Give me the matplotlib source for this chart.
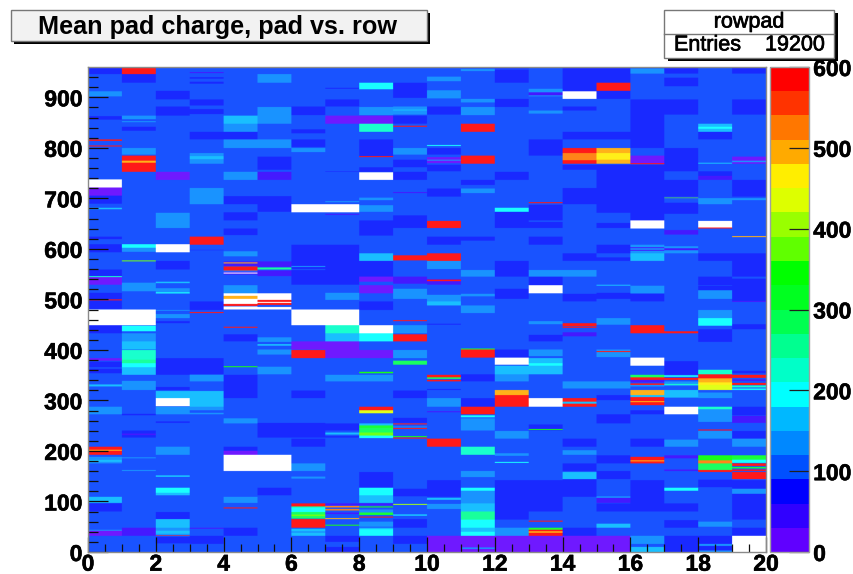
import numpy as np
import matplotlib
matplotlib.use('Agg')
import matplotlib.pyplot as plt
import matplotlib.patheffects as pe
from matplotlib.colors import ListedColormap, BoundaryNorm
from matplotlib.cm import ScalarMappable
from matplotlib.patches import Rectangle

plt.rcParams['font.family'] = ['Liberation Sans', 'DejaVu Sans']

W, H = 854, 574

# palette, 20 contours from 0 to 600
palette = ['#6000ff', '#3000ff', '#0000ff', '#0050ff', '#0088ff', '#00b8ff', '#00ffff', '#00ffc8', '#00ff90', '#00ff50',
           '#00ff20', '#00ff00', '#60ff00', '#99ff00', '#ddff00', '#ffee00', '#ffaa00', '#ff7700', '#ff3300', '#ff0000']
levels = np.linspace(0, 600, 21)
background = 105
overflow = 700   # drawn white

# each column: (pad from, pad to, mean charge)
col_00 = [(944,960,75),(900,910,135),(854,861,75),(812,815,590),(801,803,590),(720,736,overflow),(704,720,15),(688,704,75),
          (677,680,165),(618,623,75),(592,608,75),(545,558,75),(528,544,15),(543,545,210),(498,512,75),(480,498,75),(497,499,590),
          (448,479,overflow),(432,448,75),(378,383,15),(365,376,75),(353,362,75),(327,331,165),(272,287,135),(192,208,585),(200,202,480),
          (175,188,135),(178,182,165),(97,109,150),(80,96,75),(32,43,15),(42,44,135)]
col_01 = [(944,960,585),(927,944,75),(855,862,135),(849,851,135),(832,840,75),(785,798,135),(751,783,585),(769,773,480),
          (601,608,195),(593,601,135),(574,576,360),(517,532,135),(515,526,135),(448,479,overflow),(436,447,195),(416,432,135),
          (400,416,165),(380,399,225),(373,380,255),(365,373,195),(350,365,165),(320,338,135),(270,273,75),(226,240,75),(231,234,30),
          (185,187,135),(160,162,135),(32,48,30)]
col_02 = [(894,911,75),(862,880,75),(735,751,15),(640,670,135),(592,608,overflow),(558,575,75),(531,534,165),(510,521,135),
          (511,513,195),(477,478,165),(462,470,135),(452,456,75),(350,383,75),(320,326,75),(304,318,165),(288,304,overflow),
          (272,287,135),(255,258,75),(192,208,135),(149,151,195),(117,127,195),(112,117,165),(65,79,75),(48,65,165),(32,48,135),
          (36,42,165),(32,33,590),(17,30,75)]
col_03 = [(946,948,45),(935,938,75),(925,929,75),(882,894,75),(865,875,75),(815,830,75),(767,788,135),(776,782,165),(687,719,135),
          (607,623,585),(596,597,60),(478,495,75),(472,474,590),(351,383,75),(337,350,135),(287,318,150),(280,287,135),(272,275,135),
          (46,48,45),(16,32,75)]
col_04 = [(846,862,165),(830,846,135),(815,830,75),(798,815,135),(735,751,135),(687,703,75),(655,671,75),(626,639,75),(584,594,135),
          (565,574,30),(570,572,480),(556,564,585),(554,556,135),(548,554,30),(550,552,overflow),(517,527,135),(511,526,135),
          (506,511,overflow),(500,506,480),(490,500,610),(486,490,585),(479,485,overflow),(443,445,590),(416,430,75),(365,367,330),
          (304,350,75),(254,264,135),(200,208,75),(192,200,15),(160,192,overflow),(97,109,135),(86,88,590),(32,48,75)]
col_05 = [(927,944,135),(846,879,135),(798,815,135),(755,781,75),(735,751,30),(672,703,75),(563,574,30),(558,562,265),(545,556,30),
          (505,511,overflow),(498,505,610),(488,498,585),(492,494,610),(479,484,overflow),(415,424,135),(408,410,195),(390,400,135),
          (351,366,135),(240,255,75),(226,240,75),(160,192,overflow),(112,127,75)]
col_06 = [(863,880,75),(827,835,75),(800,815,75),(790,798,135),(671,687,overflow),(575,607,75),(559,575,75),(563,565,135),(528,557,75),
          (448,479,overflow),(400,416,15),(383,399,585),(304,319,75),(226,255,75),(208,224,75),(160,175,135),(145,149,135),(90,96,585),
          (88,90,265),(79,88,195),(66,79,270),(71,74,380),(48,65,585),(32,46,150),(38,41,135)]
col_07 = [(880,894,75),(915,917,75),(846,862,15),(751,752,60),(671,687,overflow),(691,693,135),(666,668,30),(592,607,75),(575,592,60),
          (544,575,75),(528,544,60),(498,512,135),(448,479,overflow),(432,448,225),(416,432,150),(383,416,15),(337,350,135),(240,254,75),
          (232,236,165),(226,229,75),(92,96,30),(88,91,510),(82,85,510),(75,78,30),(65,67,480),(52,54,330),(0,32,75),(10,20,105)]
col_08 = [(914,927,195),(863,879,135),(846,862,15),(830,846,225),(782,815,75),(780,782,570),(751,760,75),(735,750,overflow),(695,700,135),
          (672,685,135),(625,655,75),(575,590,165),(544,575,75),(534,544,15),(511,527,15),(478,495,75),(432,448,overflow),(416,432,195),
          (383,399,15),(353,356,330),(337,350,135),(280,287,585),(274,280,420),(250,254,150),(245,250,300),(236,245,270),(230,236,375),
          (225,230,195),(127,158,75),(112,127,195),(97,112,165),(92,96,30),(88,90,330),(78,84,135),(73,78,300),(68,70,570),(50,60,135),
          (32,48,195),(45,48,165)]
col_09 = [(897,927,75),(864,880,135),(872,874,165),(846,862,75),(840,842,590),(785,798,135),(760,775,75),(735,751,75),(709,711,30),
          (640,665,75),(576,586,585),(530,544,45),(500,520,135),(456,458,590),(432,448,135),(425,430,585),(420,425,585),(416,420,590),
          (383,399,135),(370,378,270),(319,304,105),(304,319,75),(255,265,75),(252,254,590),(246,248,135),(243,245,590),(227,229,330),
          (224,226,590),(110,125,75),(93,95,390),(72,74,195),(48,65,75),(16,32,75)]
col_10 = [(930,939,135),(896,912,135),(880,870,105),(864,880,75),(802,804,195),(785,798,75),(768,780,15),(773,775,135),(752,765,75),
          (702,718,75),(640,654,585),(607,623,75),(575,590,585),(559,575,135),(528,539,30),(535,538,590),(495,508,135),(487,495,165),
          (449,451,75),(345,350,590),(342,345,285),(337,340,590),(320,322,75),(287,304,135),(276,278,30),(208,224,585),(109,142,75),
          (103,107,165),(85,95,135),(0,32,15)]
col_11 = [(950,954,135),(888,895,135),(863,879,135),(830,846,585),(767,783,585),(725,735,75),(709,718,135),(615,623,75),(544,557,135),
          (505,510,135),(472,487,135),(400,402,300),(384,400,585),(351,337,105),(337,351,75),(287,304,75),(272,287,585),(266,270,195),
          (240,264,135),(192,208,225),(148,160,135),(121,127,195),(96,121,135),(80,96,165),(64,80,265),(32,64,195),(40,48,165),(0,32,15),(6,9,135)]
col_12 = [(955,960,75),(927,953,75),(879,895,75),(735,751,75),(680,672,105),(672,680,195),(640,672,75),(544,575,75),(500,520,75),
          (384,400,75),(370,384,overflow),(351,368,165),(337,351,135),(320,310,105),(310,320,480),(287,310,585),(224,239,135),
          (190,195,135),(176,178,195),(109,142,75),(64,80,75),(32,48,135),(80,110,60),(0,32,15)]
col_13 = [(900,915,135),(902,908,30),(866,872,135),(783,815,75),(692,690,105),(689,691,590),(655,686,75),(640,652,75),(607,623,75),
          (544,557,135),(527,544,75),(511,527,overflow),(480,505,105),(450,456,135),(416,429,75),(387,400,135),(351,383,165),(368,373,195),
          (304,351,105),(287,304,overflow),(240,252,75),(241,243,330),(109,142,75),(60,62,590),(32,48,585),(44,48,320),(38,41,480),(0,32,15),
          (80,109,75)]
col_14 = [(934,960,75),(910,934,75),(895,910,overflow),(872,880,75),(815,830,75),(788,798,585),(774,788,520),(767,774,585),(755,765,75),
          (687,719,75),(575,590,75),(544,557,135),(495,510,75),(446,452,585),(443,445,590),(426,434,45),(323,337,135),(287,304,585),(293,297,150),
          (208,224,75),(192,201,135),(160,175,75),(144,158,165),(109,144,75),(32,48,75),(0,32,15)]
col_15 = [(927,960,75),(911,927,585),(895,911,75),(830,815,105),(815,830,75),(788,798,495),(775,788,465),(767,775,495),(735,765,75),
          (670,735,60),(640,650,60),(645,650,75),(590,607,75),(575,582,60),(526,528,165),(500,512,75),(449,462,135),(400,385,105),(385,400,135),
          (395,397,590),(323,337,135),(300,310,60),(254,272,75),(175,191,75),(144,160,75),(109,97,105),(97,109,30),(107,110,135),(80,96,75),(48,56,165),
          (0,32,15)]
col_16 = [(945,955,135),(864,894,75),(830,864,75),(798,830,75),(767,783,15),(766,768,590),(735,765,75),(655,735,60),(639,655,overflow),
          (590,607,135),(600,602,30),(595,597,30),(575,590,150),(511,526,135),(495,510,75),(448,432,105),(432,448,585),(368,384,overflow),
          (345,350,280),(340,345,590),(335,340,30),(330,333,590),(327,330,135),(310,320,480),(306,310,150),(290,306,585),(296,298,480),(272,280,75),
          (208,224,75),(175,188,585),(179,181,480),(109,142,75),(80,109,75),(0,10,165),(16,32,135)]
col_17 = [(945,960,75),(920,937,75),(880,894,75),(864,880,75),(752,798,75),(702,735,75),(699,700,360),(668,690,75),(627,636,30),(590,604,135),
          (596,600,45),(350,377,75),(346,349,195),(340,344,590),(328,337,135),(330,332,225),(305,320,165),(272,287,overflow),(222,208,105),(208,222,135),
          (185,191,30),(121,127,195),(80,96,75),(48,63,75),(0,32,75),(160,163,30),(432,436,590)]
col_18 = [(846,830,105),(830,846,165),(836,840,195),(815,830,75),(767,769,165),(735,752,75),(735,743,30),(687,699,135),(639,654,overflow),(639,641,590),
          (575,590,75),(527,529,330),(544,527,75),(511,526,75),(500,517,135),(462,478,135),(447,462,195),(415,440,75),(351,360,225),(343,351,585),
          (335,343,480),(330,335,450),(320,330,430),(304,315,135),(282,287,225),(257,282,135),(240,242,590),(224,239,135),(181,191,330),(175,181,510),
          (162,175,270),(158,162,585),(128,143,75),(50,60,135),(0,16,135),(16,32,75),(3,12,75)]
col_19 = [(945,960,75),(864,894,75),(767,781,15),(770,773,135),(702,735,75),(695,699,135),(622,624,480),(544,590,75),(511,527,75),(495,540,75),
          (494,496,30),(440,450,75),(353,358,75),(344,350,590),(338,341,30),(330,334,590),(325,329,225),(320,323,195),(270,287,75),(255,269,30),(224,239,75),
          (208,224,135),(176,191,270),(184,191,300),(176,182,195),(170,175,590),(165,168,300),(160,163,590),(144,158,585),(110,142,75),(115,125,135),
          (80,110,75),(64,80,75),(32,48,75),(0,32,overflow)]
columns = [col_00, col_01, col_02, col_03, col_04, col_05, col_06, col_07, col_08, col_09,
           col_10, col_11, col_12, col_13, col_14, col_15, col_16, col_17, col_18, col_19]

grid = np.full((960, 20), float(background))
for c, bands in enumerate(columns):
    for lo, hi, val in bands:
        grid[min(lo, hi):max(lo, hi), c] = val

def px_axes(fig, x0, y0, x1, y1):
    return fig.add_axes([x0 / W, 1 - y1 / H, (x1 - x0) / W, (y1 - y0) / H])

def lighten(col):
    r, g, b, a = matplotlib.colors.to_rgba(col)
    return (r * 0.9 + 0.1, g * 0.9 + 0.1, b * 0.9 + 0.1, a)

def bold_labels(axis_obj):
    for lab in axis_obj.get_xticklabels() + axis_obj.get_yticklabels():
        lab.set_fontsize(16.5)
        lab.set_fontweight('bold')
        lab.set_path_effects([pe.withStroke(linewidth=0.4, foreground='black')])

fig = plt.figure(figsize=(W / 100, H / 100), dpi=100)
norm = BoundaryNorm(levels, 20)

# heatmap is a bit paler than the palette in the colorbar, dark blue less deep
heat_colors = list(palette)
heat_colors[2] = '#0012ff'
heat_colors[3] = '#0040ff'
cmap = ListedColormap([lighten(c) for c in heat_colors])
cmap.set_over('white')
ax = px_axes(fig, 88, 67, 766, 552)
# columns repeated so only the thin rows get smoothed, not the column edges
ax.imshow(np.repeat(grid, 68, axis=1), origin='lower', extent=[0, 20, 0, 960], aspect='auto', cmap=cmap, norm=norm,
          interpolation='hanning', interpolation_stage='rgba')
ax.set_xlim(0, 20)
ax.set_ylim(0, 960)
ax.set_xticks(np.arange(0, 21, 2))
ax.set_xticks(np.arange(0, 20.5, 0.5), minor=True)
ax.set_yticks(np.arange(0, 901, 100))
ax.set_yticks(np.arange(0, 960, 20), minor=True)
ax.tick_params(axis='x', which='major', direction='in', length=11, width=0.9, color='#101010', pad=0.5)
ax.tick_params(axis='x', which='minor', direction='in', length=5.5, width=0.9, color='#101010')
ax.tick_params(axis='y', which='major', direction='in', length=14.5, width=0.9, color='#101010', pad=4)
ax.tick_params(axis='y', which='minor', direction='in', length=7, width=0.9, color='#101010')
bold_labels(ax)
for s in ax.spines.values():
    s.set_color('#8a8a8a')
    s.set_linewidth(1.0)

# colorbar
cax = px_axes(fig, 770, 67, 809, 552)
cb = fig.colorbar(ScalarMappable(norm=norm, cmap=ListedColormap(palette)), cax=cax,
                  ticks=np.arange(0, 601, 100), spacing='proportional')
cb.ax.minorticks_off()
cb.ax.tick_params(direction='in', length=14.5, width=0.9, color='#202020', pad=3)
bold_labels(cb.ax)
cb.outline.set_edgecolor('#a0a0a0')
cb.outline.set_linewidth(1.0)

# boxes in pixel coordinates
over = fig.add_axes([0, 0, 1, 1], zorder=5)
over.set_xlim(0, W)
over.set_ylim(H, 0)
over.axis('off')
stroke = [pe.withStroke(linewidth=0.5, foreground='black')]
over.add_patch(Rectangle((14, 13), 416, 31, fc='black', ec='none'))
over.add_patch(Rectangle((11, 10), 416, 31, fc='#f2f2f2', ec='#777777', lw=1.0))
over.text(218, 27, 'Mean pad charge, pad vs. row', ha='center', va='center', fontsize=18.2, fontweight='bold')

over.add_patch(Rectangle((668, 13), 170, 48, fc='black', ec='none'))
over.add_patch(Rectangle((664, 10), 170, 48, fc='white', ec='#777777', lw=1.0))
over.plot([664, 834], [33.5, 33.5], color='#777777', lw=1.0)
over.text(749, 22, 'rowpad', ha='center', va='center', fontsize=15.5, path_effects=stroke)
over.text(674, 45, 'Entries', ha='left', va='center', fontsize=15.5, path_effects=stroke)
over.text(825, 45, '19200', ha='right', va='center', fontsize=15.5, path_effects=stroke)

fig.savefig('out.png', dpi=100)
